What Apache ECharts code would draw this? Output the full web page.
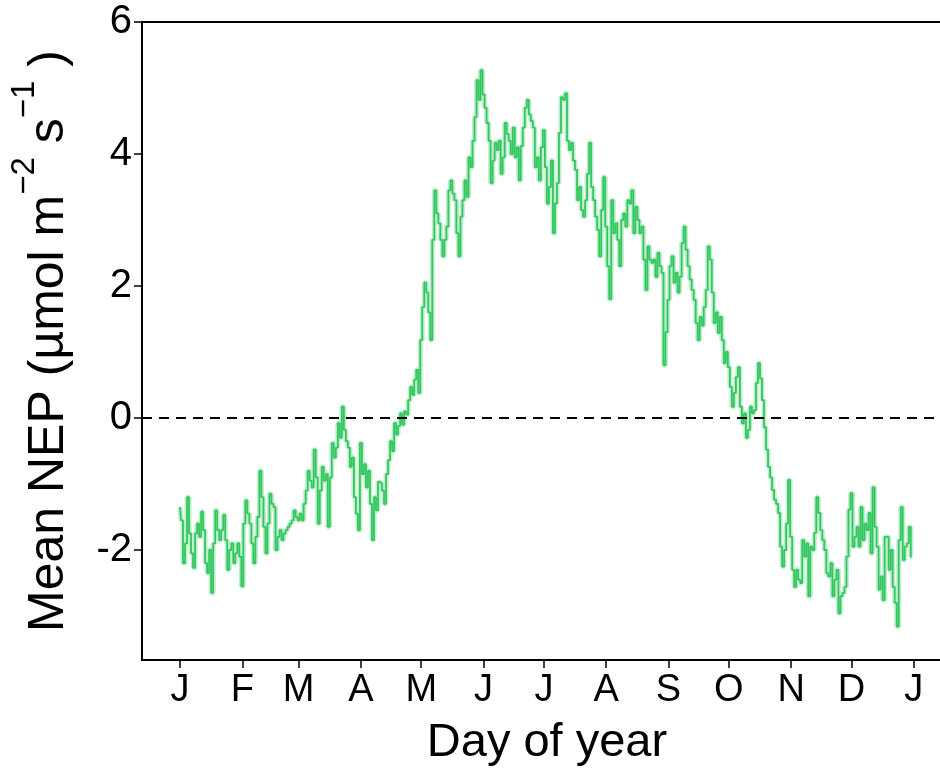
<!DOCTYPE html>
<html>
<head>
<meta charset="utf-8">
<script src="https://cdn.jsdelivr.net/npm/echarts@6/dist/echarts.min.js"></script>
<style>
  html, body { margin: 0; padding: 0; background: #fff; }
  #chart { width: 940px; height: 769px; }
</style>
</head>
<body>
<div id="chart"></div>
<script>
// Day-of-year positions of month starts and their labels
const monthStartDays = [1, 32, 60, 91, 121, 152, 182, 213, 244, 274, 305, 335, 366];
const monthLabels = ['J', 'F', 'M', 'A', 'M', 'J', 'J', 'A', 'S', 'O', 'N', 'D', 'J'];
const yTickValues = [-2, 0, 2, 4, 6];

// Mean daily NEP (µmol m-2 s-1), day 1 .. 365
const nepMean = [
  -1.35, -1.55, -2.2, -1.9, -1.2, -1.75, -2.05, -2.27, -1.75, -1.6,
  -1.8, -1.42, -1.7, -2.2, -2.35, -2.0, -2.65, -1.9, -1.4, -1.7,
  -1.85, -1.7, -1.47, -1.85, -2.3, -2.0, -1.9, -2.2, -2.05, -1.9,
  -2.1, -2.55, -1.6, -1.25, -1.45, -1.6, -1.9, -2.2, -1.8, -1.5,
  -0.8, -1.2, -1.65, -2.05, -1.6, -1.15, -1.3, -1.35, -2.0, -1.8,
  -1.7, -1.85, -1.75, -1.7, -1.65, -1.6, -1.55, -1.4, -1.5, -1.55,
  -1.45, -1.55, -1.3, -1.1, -0.8, -0.95, -1.05, -0.48, -0.9, -1.6,
  -1.1, -0.74, -0.95, -0.85, -1.65, -0.9, -0.38, -0.6, -0.45, -0.08,
  -0.3, 0.17, -0.18, -0.35, -0.45, -0.74, -0.6, -1.2, -1.45, -1.7,
  -0.38, -0.85, -0.7, -1.05, -0.8, -1.3, -1.85, -1.2, -1.4, -0.97,
  -1.0, -1.1, -1.3, -0.85, -0.64, -0.35, -0.5, -0.08, -0.25, -0.12,
  0.07, -0.1, 0.1, 0.05, 0.27, 0.47, 0.35, 0.58, 0.73, 0.38,
  1.18, 1.68, 2.05, 1.9, 1.6, 1.18, 2.7, 3.45, 3.1, 2.95,
  2.7, 2.45, 2.7, 2.9, 3.45, 3.6, 3.4, 3.3, 2.8, 2.45,
  3.05, 3.3, 3.6, 3.35, 3.95, 3.8, 4.2, 4.56, 5.12, 4.82,
  5.27, 4.9, 4.7, 4.47, 4.2, 3.56, 3.9, 4.17, 4.06, 4.2,
  3.7, 3.95, 4.47, 4.3, 4.2, 4.0, 4.4, 3.95, 4.1, 3.6,
  4.12, 4.4, 4.7, 4.82, 4.6, 4.5, 4.4, 3.8, 3.95, 3.6,
  4.1, 4.36, 3.8, 3.25, 3.5, 3.9, 2.8, 3.25, 3.56, 4.32,
  4.86, 4.82, 4.92, 4.2, 4.06, 4.17, 3.9, 3.76, 3.3, 3.5,
  3.15, 3.05, 3.3, 3.7, 4.17, 3.5, 3.3, 3.05, 2.85, 2.45,
  3.15, 3.65, 2.9, 2.3, 1.8, 3.3, 2.8, 2.95, 2.7, 2.3,
  3.0, 3.1, 2.9, 3.3, 3.25, 3.45, 2.8, 3.2, 3.0, 2.8,
  2.9, 2.4, 1.94, 2.6, 2.4, 2.35, 2.4, 2.14, 2.5, 2.3,
  2.2, 0.8, 1.3, 1.79, 2.3, 2.45, 2.05, 2.2, 1.9, 2.14,
  2.65, 2.9, 2.55, 2.3, 2.1, 1.94, 1.79, 1.44, 1.18, 1.53,
  1.4, 1.68, 1.94, 2.6, 2.4, 1.9, 1.44, 1.6, 1.29, 1.53,
  1.18, 0.83, 1.0, 0.77, 0.47, 0.17, 0.38, 0.62, 0.77, 0.17,
  -0.08, 0.07, -0.3, -0.18, 0.17, 0.07, 0.12, 0.53, 0.83, 0.6,
  0.27, -0.14, -0.48, -0.74, -0.9, -1.09, -1.24, -1.3, -1.44, -1.95,
  -2.25, -2.0, -1.6, -0.94, -1.8, -2.3, -2.56, -2.3, -2.45, -2.5,
  -1.85, -2.1, -1.9, -2.7, -1.95, -2.0, -1.74, -1.2, -1.44, -1.7,
  -1.85, -2.0, -2.35, -2.4, -2.2, -2.7, -2.45, -2.3, -2.96, -2.7,
  -2.65, -2.56, -2.1, -1.39, -1.14, -1.95, -1.8, -1.65, -1.95, -1.35,
  -1.85, -1.6, -1.7, -1.44, -2.05, -1.05, -1.65, -1.95, -2.6, -2.4,
  -2.76, -1.8, -1.8, -2.3, -2.0, -2.56, -2.8, -3.16, -1.85, -1.35,
  -2.15, -1.95, -1.9, -1.65, -2.1
];

const seriesData = nepMean.map((v, i) => [i + 1, v]);

const axisFont = 'Liberation Sans, Arial, sans-serif';
const lineGreen = '#33c75f';

const chart = echarts.init(document.getElementById('chart'), null, { renderer: 'canvas' });

chart.setOption({
  animation: false,
  backgroundColor: '#ffffff',
  grid: {
    left: 142,
    top: 22,
    bottom: 109,
    right: -12,
    containLabel: false,
    outerBoundsMode: 'none',
    show: true,
    borderColor: '#000',
    borderWidth: 2,
    backgroundColor: 'transparent'
  },
  xAxis: {
    type: 'value',
    min: -17.9,
    max: 385,
    name: 'Day of year',
    nameLocation: 'middle',
    nameGap: 60,
    nameTextStyle: { fontFamily: axisFont, fontSize: 47, color: '#000' },
    axisLine: { show: true, onZero: false, lineStyle: { color: '#000', width: 2 } },
    axisTick: {
      show: true,
      customValues: monthStartDays,
      length: 8,
      lineStyle: { color: '#000', width: 1.5 }
    },
    axisLabel: {
      customValues: monthStartDays,
      margin: 12,
      fontFamily: axisFont,
      fontSize: 38,
      color: '#000',
      formatter: (v) => monthLabels[monthStartDays.indexOf(v)] || ''
    },
    splitLine: { show: false }
  },
  yAxis: {
    type: 'value',
    min: -3.667,
    max: 6,
    name: '{n|Mean NEP (µmol m}{s|−2}{n| s}{s|−1}{n| )}',
    nameLocation: 'middle',
    nameGap: 68,
    nameRotate: 90,
    nameTextStyle: {
      fontFamily: axisFont,
      color: '#000',
      rich: {
        n: { fontFamily: axisFont, fontSize: 50, color: '#000', lineHeight: 66, verticalAlign: 'bottom' },
        s: { fontFamily: axisFont, fontSize: 33, color: '#000', lineHeight: 66, verticalAlign: 'top' }
      }
    },
    axisLine: { show: true, onZero: false, lineStyle: { color: '#000', width: 2 } },
    axisTick: {
      show: true,
      customValues: yTickValues,
      length: 8,
      lineStyle: { color: '#000', width: 1.5 }
    },
    axisLabel: {
      customValues: yTickValues,
      margin: 10,
      fontFamily: axisFont,
      fontSize: 40,
      color: '#000'
    },
    splitLine: { show: false }
  },
  series: [
    {
      // soft halo standing in for the uncertainty ribbon
      type: 'line',
      data: seriesData,
      step: 'middle',
      showSymbol: false,
      silent: true,
      lineStyle: { color: 'rgba(51,199,95,0.3)', width: 5 },
      z: 2
    },
    {
      type: 'line',
      data: seriesData,
      step: 'middle',
      showSymbol: false,
      lineStyle: { color: lineGreen, width: 1.8 },
      z: 3,
      markLine: {
        silent: true,
        symbol: 'none',
        label: { show: false },
        lineStyle: { color: '#000', type: [10, 7], width: 2 },
        data: [{ yAxis: 0 }]
      }
    }
  ]
});
</script>
</body>
</html>
